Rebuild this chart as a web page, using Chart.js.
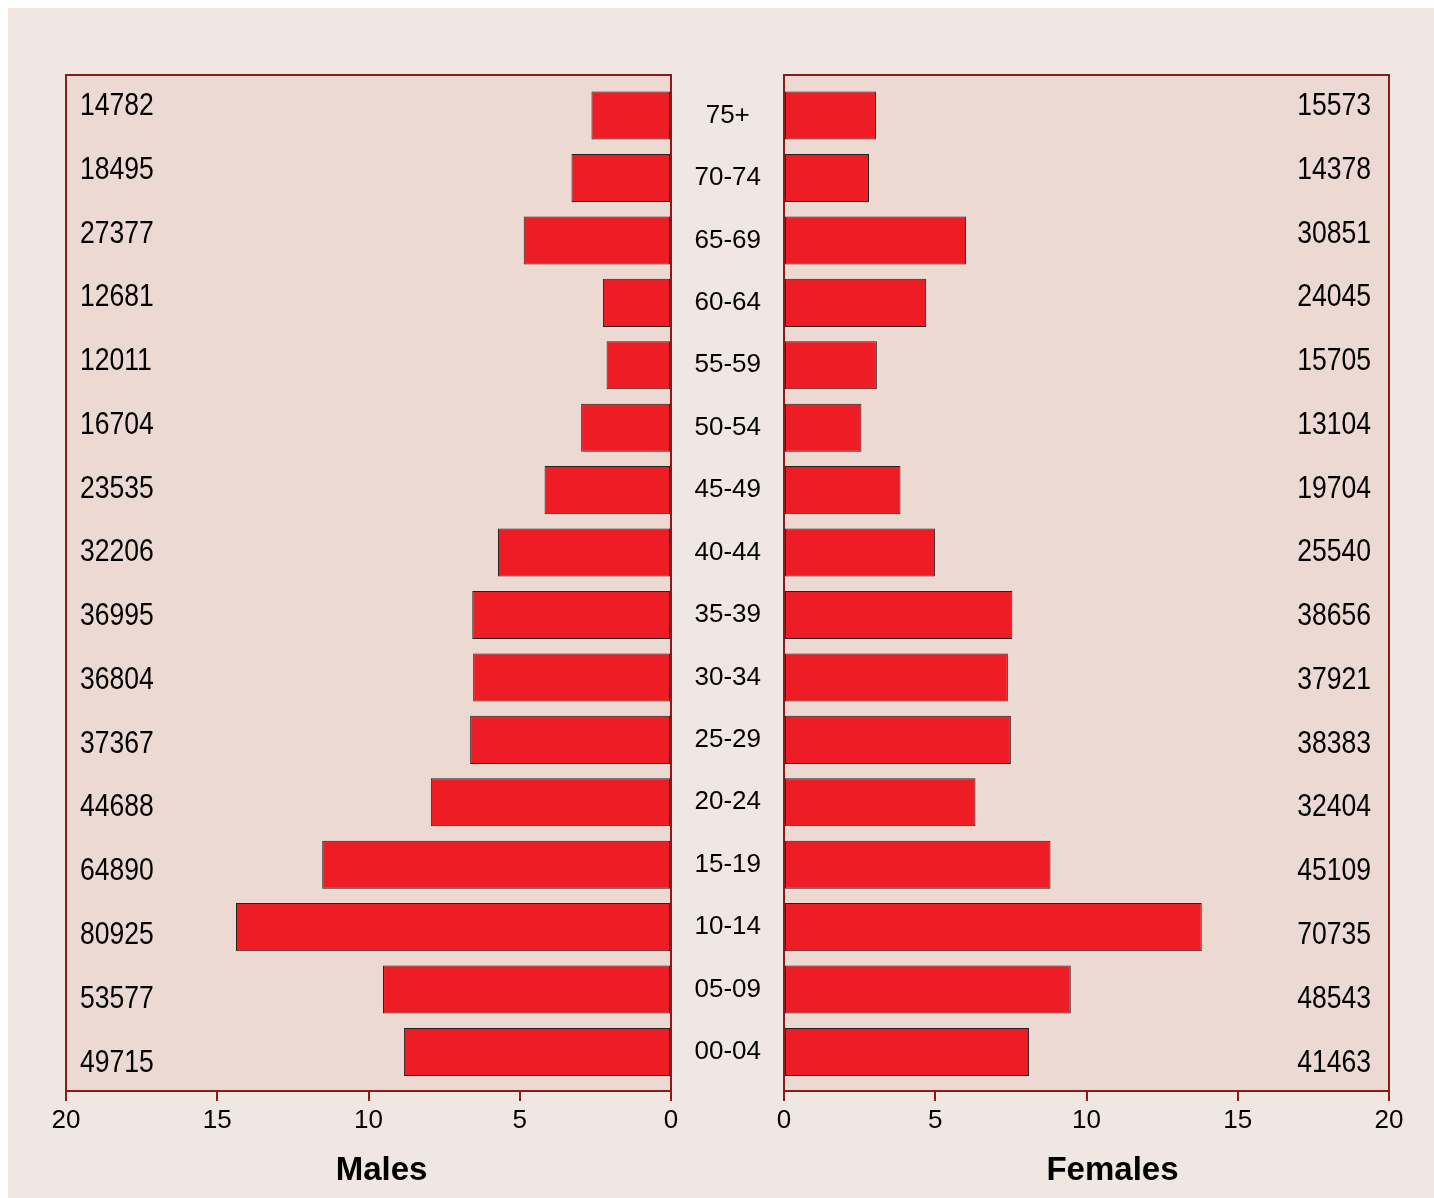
<!DOCTYPE html>
<html>
<head>
<meta charset="utf-8">
<script src="https://cdn.jsdelivr.net/npm/chart.js@4.4.1/dist/chart.umd.min.js"></script>
<style>
  html, body { margin: 0; padding: 0; background: #fff; }
  #fond { position: absolute; left: 8px; top: 8px; width: 1426px; height: 1190px; background: #f0e6e2; }
  canvas { position: absolute; top: 0; }
  #hommes { left: 0; }
  #femmes { left: 671px; }
</style>
</head>
<body>
<div id="fond"></div>
<canvas id="hommes" width="700" height="1198"></canvas>
<canvas id="femmes" width="763" height="1198"></canvas>
<script>
// tranches d'age, du bas vers le haut
const ages = ['00-04', '05-09', '10-14', '15-19', '20-24', '25-29', '30-34', '35-39',
              '40-44', '45-49', '50-54', '55-59', '60-64', '65-69', '70-74', '75+'];

// pourcentages
const hommesPct = [8.83, 9.52, 14.38, 11.53, 7.94, 6.64, 6.54, 6.57, 5.72, 4.18, 2.97, 2.13, 2.25, 4.87, 3.29, 2.63];
const femmesPct = [8.10, 9.48, 13.81, 8.81, 6.33, 7.50, 7.40, 7.55, 4.99, 3.85, 2.56, 3.07, 4.70, 6.02, 2.81, 3.04];

// effectifs écrits dans les panneaux
const hommesEffectifs = [49715, 53577, 80925, 64890, 44688, 37367, 36804, 36995, 32206, 23535, 16704, 12011, 12681, 27377, 18495, 14782];
const femmesEffectifs = [41463, 48543, 70735, 45109, 32404, 38383, 37921, 38656, 25540, 19704, 13104, 15705, 24045, 30851, 14378, 15573];

const graduations = [0, 5, 10, 15, 20];

const bordeaux = '#8b1a1a';
const rouge = '#ee1c25';
const police = 'Liberation Sans';

// fond, cadre, effectifs et titre de chaque panneau
const panneau = {
    id: 'panneau',
    beforeDraw(chart, args, opts) {
        const { ctx, chartArea: a } = chart;
        ctx.save();
        ctx.fillStyle = '#ecdad2';
        ctx.fillRect(a.left, a.top, a.right - a.left, a.bottom - a.top);
        ctx.restore();
    },
    afterDraw(chart, args, opts) {
        const { ctx, chartArea: a } = chart;
        ctx.save();
        ctx.strokeStyle = bordeaux;
        ctx.lineWidth = 2;
        ctx.beginPath();
        ctx.moveTo(a.left, a.bottom);
        ctx.lineTo(a.left, a.top);
        ctx.lineTo(a.right, a.top);
        ctx.lineTo(a.right, a.bottom);
        ctx.stroke();

        // chiffres étroits : police normale compressée horizontalement
        ctx.fillStyle = '#000';
        ctx.font = '32px "' + police + '"';
        ctx.textAlign = opts.cote;
        ctx.textBaseline = 'alphabetic';
        const x = opts.cote === 'left' ? a.left + 14 : a.right - 18;
        const haut = a.top + 40;
        const bas = a.bottom - 19.5;
        const n = opts.effectifs.length;
        opts.effectifs.forEach((e, i) => {
            ctx.save();
            ctx.translate(x, bas - (bas - haut) * i / (n - 1));
            ctx.scale(0.83, 1);
            ctx.fillText(String(e), 0, 0);
            ctx.restore();
        });

        ctx.font = 'bold 33px "' + police + '"';
        ctx.textAlign = 'center';
        ctx.fillText(opts.titre, (a.left + a.right) / 2 + opts.decalage, 1180);
        ctx.restore();
    }
};

function axeX(inverse) {
    return {
        type: 'linear', min: 0, max: 20, reverse: inverse,
        afterBuildTicks: s => { s.ticks = graduations.map(v => ({ value: v })); },
        afterFit: s => { s.height = 107; },
        grid: { drawOnChartArea: false, drawTicks: true, tickLength: 10, color: bordeaux, lineWidth: 2 },
        border: { display: true, color: bordeaux, width: 2 },
        ticks: { color: '#000', font: { family: police, size: 26 }, padding: 4, maxRotation: 0 }
    };
}

const yMin = -0.625, yMax = 15.65;
const ticksAges = s => { s.ticks = ages.map((_, i) => ({ value: i })); };

function creerGraphique(id, valeurs, inverse, axeY, padding, opts) {
    return new Chart(document.getElementById(id), {
        type: 'bar',
        data: {
            datasets: [{
                data: valeurs.map((v, i) => ({ x: v, y: i })),
                backgroundColor: rouge,
                borderColor: 'rgba(0,0,0,0.85)',
                borderWidth: 1,
                borderSkipped: false,
                barPercentage: 0.77,
                categoryPercentage: 1
            }]
        },
        options: {
            indexAxis: 'y',
            responsive: false,
            animation: false,
            layout: { padding: padding },
            scales: { x: axeX(inverse), y: axeY },
            plugins: { legend: { display: false }, tooltip: { enabled: false }, panneau: opts }
        },
        plugins: [panneau]
    });
}

creerGraphique('hommes', hommesPct, true,
    { type: 'linear', min: yMin, max: yMax, offset: false, display: false, afterBuildTicks: ticksAges },
    { left: 66, top: 75, right: 29, bottom: 0 },
    { cote: 'left', effectifs: hommesEffectifs, titre: 'Males', decalage: 13 });

creerGraphique('femmes', femmesPct, false,
    {
        type: 'linear', min: yMin, max: yMax, offset: false, position: 'left',
        afterBuildTicks: ticksAges,
        afterFit: s => { s.width = 113; },
        grid: { display: false, drawTicks: false },
        border: { display: false },
        ticks: {
            autoSkip: false, crossAlign: 'center', padding: 23, color: '#000',
            font: { family: police, size: 26 },
            callback: (v, i) => ages[i]
        }
    },
    { left: 0, top: 75, right: 45, bottom: 0 },
    { cote: 'right', effectifs: femmesEffectifs, titre: 'Females', decalage: 26 });
</script>
</body>
</html>
